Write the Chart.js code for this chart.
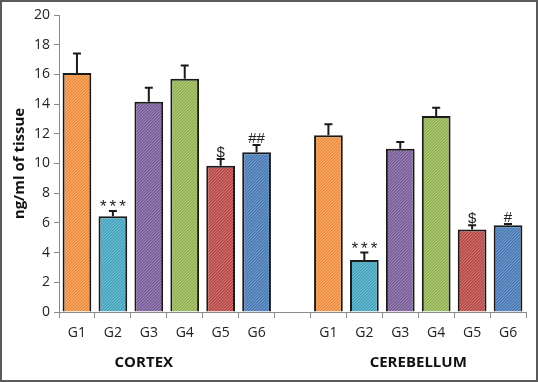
<!DOCTYPE html>
<html>
<head>
<meta charset="utf-8">
<script src="https://cdn.jsdelivr.net/npm/chart.js@4/dist/chart.umd.min.js"></script>
<style>
  html, body { margin: 0; padding: 0; background: #fff; }
  #grafico { display: block; }
</style>
</head>
<body>
<canvas id="grafico" width="538" height="382"></canvas>
<script>
// grupos: 6 do córtex, um espaço vazio, 6 do cerebelo
const categorias = ['G1', 'G2', 'G3', 'G4', 'G5', 'G6', '', 'G1', 'G2', 'G3', 'G4', 'G5', 'G6'];
const valores = [16.1, 6.45, 14.15, 15.7, 9.85, 10.75, null, 11.9, 3.5, 11.0, 13.2, 5.55, 5.85];
const erros = [1.3, 0.35, 0.95, 0.9, 0.45, 0.5, null, 0.75, 0.5, 0.45, 0.55, 0.3, 0.08];
const marcas = ['', '***', '', '', '$', '##', '', '', '***', '', '', '$', '#'];
const coresBarras = ['#F79646', '#4BACC6', '#8064A2', '#9BBB59', '#C0504D', '#4F81BD', '#ffffff',
                     '#F79646', '#4BACC6', '#8064A2', '#9BBB59', '#C0504D', '#4F81BD'];
const yTicks = [0, 2, 4, 6, 8, 10, 12, 14, 16, 18, 20];
const grupos = ['CORTEX', 'CEREBELLUM'];

// padrão hachurado fino, parecido com o do Excel
function hachura(cor) {
  const c = document.createElement('canvas');
  c.width = 3; c.height = 3;
  const g = c.getContext('2d');
  g.fillStyle = cor;
  g.fillRect(0, 0, 3, 3);
  g.fillStyle = 'rgba(255,255,255,0.22)';
  for (let i = 0; i < 3; i++) g.fillRect(i, 2 - i, 1, 1);
  g.fillStyle = 'rgba(0,0,0,0.08)';
  for (let i = 0; i < 3; i++) g.fillRect(i, (3 - i) % 3, 1, 1);
  return g.createPattern(c, 'repeat');
}

const ctx = document.getElementById('grafico').getContext('2d');

const extras = {
  id: 'extras',
  afterDatasetsDraw(chart) {
    const c = chart.ctx;
    const x = chart.scales.x;
    const y = chart.scales.y;
    c.save();
    // barras de erro (só para cima)
    valores.forEach((v, i) => {
      if (v == null) return;
      const px = x.getPixelForValue(i);
      const y0 = y.getPixelForValue(v);
      const y1 = y.getPixelForValue(v + erros[i]);
      c.strokeStyle = '#1a1a1a';
      c.lineWidth = 2;
      c.beginPath();
      c.moveTo(px, y0);
      c.lineTo(px, y1);
      c.moveTo(px - 4, y1);
      c.lineTo(px + 4, y1);
      c.stroke();
      if (marcas[i]) {
        c.fillStyle = '#222';
        c.textAlign = 'center';
        c.textBaseline = 'bottom';
        if (marcas[i] === '***') {
          c.font = '17px "Liberation Sans"';
          c.letterSpacing = '3px';
          c.fillText(marcas[i], px + 1.5, y1 + 5);
        } else {
          c.font = '15px "Liberation Sans"';
          c.letterSpacing = '0px';
          c.fillText(marcas[i], px, y1 + 1);
        }
      }
    });
    c.letterSpacing = '0px';
    // nomes dos grupos
    c.fillStyle = '#111';
    c.font = 'bold 15px "Open Sans"';
    c.textAlign = 'center';
    c.textBaseline = 'middle';
    c.fillText(grupos[0], x.getPixelForValue(2) - 5, 363);
    c.fillText(grupos[1], (x.getPixelForValue(9) + x.getPixelForValue(10)) / 2, 363);
    // moldura
    c.strokeStyle = '#5a5a5a';
    c.lineWidth = 2;
    c.strokeRect(1, 1, chart.width - 2, chart.height - 2);
    c.restore();
  }
};

new Chart(ctx, {
  type: 'bar',
  data: {
    labels: categorias,
    datasets: [{
      data: valores,
      backgroundColor: coresBarras.map(hachura),
      borderColor: '#1a1a1a',
      borderWidth: 2,
      barPercentage: 0.8,
      categoryPercentage: 1.0
    }]
  },
  options: {
    responsive: false,
    animation: false,
    layout: { padding: { left: 11, right: 12, top: 15, bottom: 0 } },
    plugins: {
      legend: { display: false },
      tooltip: { enabled: false }
    },
    scales: {
      x: {
        grid: { display: true, drawOnChartArea: false, offset: true, tickLength: 6, color: '#8a8a8a', lineWidth: 1 },
        border: { color: '#8a8a8a', width: 1 },
        ticks: { color: '#222', font: { family: 'Open Sans', size: 14 }, padding: 7, maxRotation: 0, autoSkip: false },
        afterFit: s => { s.height = 70; }
      },
      y: {
        min: 0,
        max: 20,
        afterBuildTicks: s => { s.ticks = yTicks.map(v => ({ value: v })); },
        grid: { display: true, drawOnChartArea: false, tickLength: 5, color: '#8a8a8a' },
        border: { color: '#8a8a8a', width: 1 },
        ticks: { color: '#222', font: { family: 'Open Sans', size: 14 }, padding: 4 },
        title: { display: true, text: 'ng/ml of tissue', color: '#111', font: { family: 'Open Sans', size: 15, weight: 'bold' }, padding: { top: 0, bottom: 3 } },
        afterFit: s => { s.width = 48; }
      }
    }
  },
  plugins: [extras]
});
</script>
</body>
</html>
